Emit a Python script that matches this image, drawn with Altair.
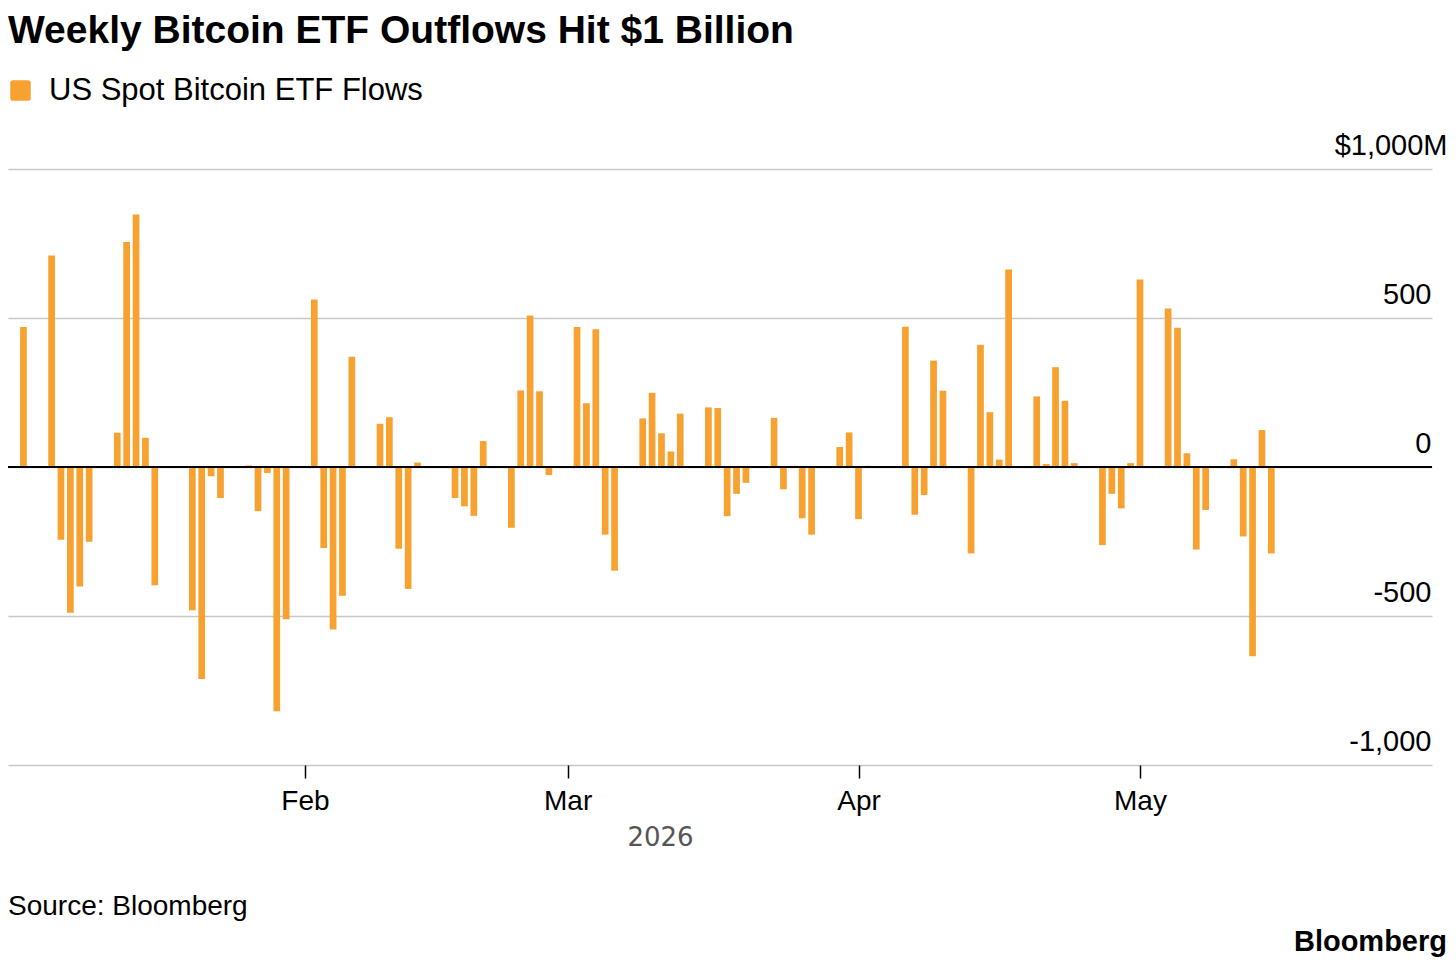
import altair as alt
import pandas as pd

TITLE = "Weekly Bitcoin ETF Outflows Hit $1 Billion"
SERIES = "US Spot Bitcoin ETF Flows"
SOURCE = "Source: Bloomberg"
LOGO = "Bloomberg"
YEAR_LABEL = "2026"
ORANGE = "#F7A131"

# Daily flows, $ millions (trading days)
jan_dates = ["2026-01-02", "2026-01-05", "2026-01-06", "2026-01-07", "2026-01-08", "2026-01-09",
             "2026-01-12", "2026-01-13", "2026-01-14", "2026-01-15", "2026-01-16",
             "2026-01-20", "2026-01-21", "2026-01-22", "2026-01-23",
             "2026-01-26", "2026-01-27", "2026-01-28", "2026-01-29", "2026-01-30"]
jan_flows = [470, 710, -244, -489, -401, -251,
             115, 755, 847, 98, -397,
             -481, -711, -31, -104,
             5, -148, -20, -820, -511]

feb_dates = ["2026-02-02", "2026-02-03", "2026-02-04", "2026-02-05", "2026-02-06",
             "2026-02-09", "2026-02-10", "2026-02-11", "2026-02-12", "2026-02-13",
             "2026-02-17", "2026-02-18", "2026-02-19", "2026-02-20",
             "2026-02-23", "2026-02-24", "2026-02-25", "2026-02-26", "2026-02-27"]
feb_flows = [562, -272, -545, -432, 370,
             145, 167, -274, -409, 15,
             -104, -132, -164, 87,
             -204, 257, 508, 254, -27]

mar_dates = ["2026-03-02", "2026-03-03", "2026-03-04", "2026-03-05", "2026-03-06",
             "2026-03-09", "2026-03-10", "2026-03-11", "2026-03-12", "2026-03-13",
             "2026-03-16", "2026-03-17", "2026-03-18", "2026-03-19", "2026-03-20",
             "2026-03-23", "2026-03-24", "2026-03-25", "2026-03-26", "2026-03-27",
             "2026-03-30", "2026-03-31"]
mar_flows = [470, 214, 462, -227, -348,
             163, 249, 113, 52, 179,
             200, 198, -165, -90, -53,
             165, -75, 4, -172, -227,
             67, 116]

apr_dates = ["2026-04-01", "2026-04-02",
             "2026-04-06", "2026-04-07", "2026-04-08", "2026-04-09", "2026-04-10",
             "2026-04-13", "2026-04-14", "2026-04-15", "2026-04-16", "2026-04-17",
             "2026-04-20", "2026-04-21", "2026-04-22", "2026-04-23", "2026-04-24",
             "2026-04-27", "2026-04-28", "2026-04-29", "2026-04-30"]
apr_flows = [-175, 4,
             471, -160, -94, 357, 256,
             -290, 410, 184, 25, 663,
             237, 10, 335, 222, 13,
             -262, -90, -139, 13]

may_dates = ["2026-05-01",
             "2026-05-04", "2026-05-05", "2026-05-06", "2026-05-07", "2026-05-08",
             "2026-05-11", "2026-05-12", "2026-05-13", "2026-05-14", "2026-05-15"]
may_flows = [629,
             532, 467, 46, -277, -144,
             26, -233, -635, 124, -290]

y_ticks = [-1000, -500, 0, 500, 1000]
y_tick_labels = ["-1,000", "-500", "0", "500", "$1,000M"]
x_ticks = ["2026-02-01", "2026-03-01", "2026-04-01", "2026-05-01"]
x_domain = ["2025-12-31T21:15:00", "2026-05-31T14:10:00"]

dates = jan_dates + feb_dates + mar_dates + apr_dates + may_dates
flows = jan_flows + feb_flows + mar_flows + apr_flows + may_flows
df = pd.DataFrame({"date": dates, "flow": flows, "series": [SERIES] * len(dates)})


def to_dt(s):
    t = pd.Timestamp(s)
    return alt.DateTime(year=t.year, month=t.month, date=t.day,
                        hours=t.hour, minutes=t.minute, utc=True)


FONT = "Liberation Sans"
W, H = 1424, 596

y_label_expr = "".join(
    f"datum.value == {v} ? '{lab}' : " for v, lab in zip(y_ticks, y_tick_labels)
) + "''"

rounded_square = ("M-0.72,-1L0.72,-1Q1,-1,1,-0.72L1,0.72Q1,1,0.72,1L-0.72,1"
                  "Q-1,1,-1,0.72L-1,-0.72Q-1,-1,-0.72,-1Z")

x_enc = alt.X(
    "date:T",
    scale=alt.Scale(type="utc", domain=[to_dt(d) for d in x_domain]),
    axis=alt.Axis(
        values=[to_dt(d) for d in x_ticks],
        format="%b",
        grid=False,
        domain=False,
        ticks=True,
        tickSize=13,
        tickWidth=1.5,
        tickColor="black",
        labelFont=FONT,
        labelFontSize=28,
        labelColor="black",
        labelAlign="center",
        labelBaseline="alphabetic",
        labelPadding=31,
        labelFlush=False,
        labelOverlap=False,
        title=YEAR_LABEL,
        titleFont="DejaVu Sans",
        titleFontSize=26,
        titleFontWeight="normal",
        titleColor="#555555",
        titleX=652,
        titleY=80,
        titleAlign="center",
        titleBaseline="alphabetic",
    ),
)

y_enc = alt.Y(
    "flow:Q",
    scale=alt.Scale(domain=[-1000, 1000], nice=False),
    axis=alt.Axis(
        orient="right",
        values=y_ticks,
        labelExpr=y_label_expr,
        grid=True,
        gridColor="#c8c8c8",
        gridWidth=1.4,
        domain=False,
        ticks=False,
        labelFont=FONT,
        labelFontSize=29,
        labelColor="black",
        labelAlign="right",
        labelBaseline="alphabetic",
        labelOffset=-15,
        labelPadding={"condition": {"test": "datum.value == 1000", "value": 15}, "value": -1},
        labelFlush=False,
        labelOverlap=False,
        title=None,
    ),
)

bars = alt.Chart(df).mark_bar(size=6.7).encode(
    x=x_enc,
    y=y_enc,
    color=alt.Color(
        "series:N",
        scale=alt.Scale(domain=[SERIES], range=[ORANGE]),
        legend=alt.Legend(
            orient="none",
            legendX=-3,
            legendY=-94,
            title=None,
            padding=0,
            labelFont=FONT,
            labelFontSize=31,
            labelColor="black",
            labelOffset=13,
            labelLimit=700,
            symbolType=rounded_square,
            symbolSize=420,
            symbolStrokeWidth=0,
            symbolOpacity=1,
        ),
    ),
)

zero_df = pd.DataFrame({"flow": [0]})
zero = alt.Chart(zero_df).mark_rule(color="black", strokeWidth=2).encode(
    y=alt.Y("flow:Q", title=None)
)

source_text = alt.Chart(pd.DataFrame({"t": [SOURCE]})).mark_text(
    align="left", baseline="alphabetic", font=FONT, fontSize=28, color="black"
).encode(text="t:N", x=alt.value(0), y=alt.value(746))

logo_text = alt.Chart(pd.DataFrame({"t": [LOGO]})).mark_text(
    align="right", baseline="alphabetic", font=FONT, fontSize=29,
    fontWeight="bold", color="black"
).encode(text="t:N", x=alt.value(1439), y=alt.value(781.5))

chart = alt.layer(bars, zero, source_text, logo_text).properties(
    width=W,
    height=H,
    title=alt.TitleParams(
        text=TITLE,
        anchor="start",
        frame="group",
        font=FONT,
        fontSize=39,
        fontWeight="bold",
        color="black",
        offset=24.5,
    ),
    padding={"left": 0, "top": 161, "right": 16, "bottom": 192},
    autosize=alt.AutoSizeParams(type="none"),
    background="white",
).configure_view(strokeWidth=0)

chart.save("out.html", embed_options={"renderer": "svg", "actions": False})
